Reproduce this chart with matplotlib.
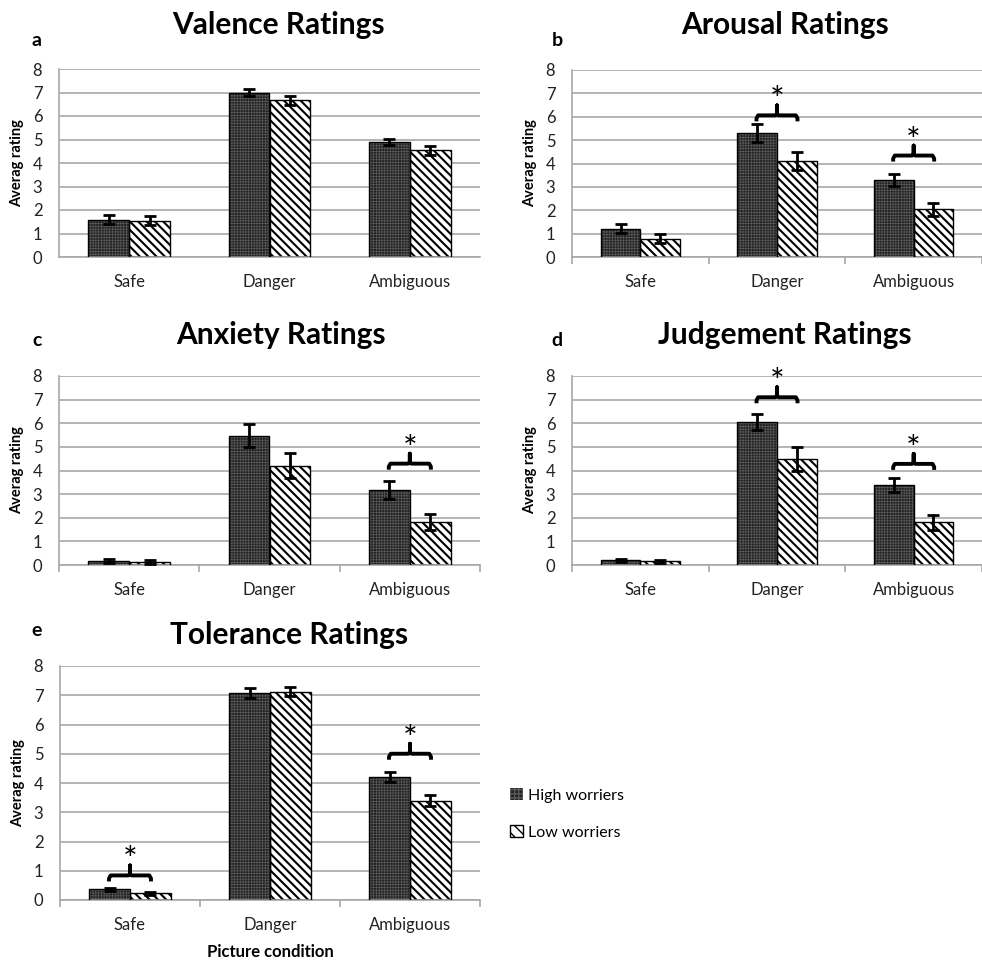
import matplotlib
matplotlib.use("Agg")
import matplotlib.pyplot as plt
from matplotlib.patches import Patch
import numpy as np

plt.rcParams['font.family'] = ['Lato', 'DejaVu Sans']

categories = ["Safe", "Danger", "Ambiguous"]
series_names = ["High worriers", "Low worriers"]
yticks = [0, 1, 2, 3, 4, 5, 6, 7, 8]

titles = ["Valence Ratings", "Arousal Ratings", "Anxiety Ratings",
          "Judgement Ratings", "Tolerance Ratings"]
panel_letters = ["a", "b", "c", "d", "e"]

high_means = [
    [1.59, 6.99, 4.89],
    [1.21, 5.30, 3.28],
    [0.18, 5.47, 3.17],
    [0.20, 6.06, 3.39],
    [0.36, 7.08, 4.20],
]
high_errs = [
    [0.20, 0.16, 0.14],
    [0.20, 0.40, 0.25],
    [0.08, 0.48, 0.37],
    [0.07, 0.35, 0.31],
    [0.05, 0.18, 0.18],
]
low_means = [
    [1.55, 6.66, 4.54],
    [0.79, 4.11, 2.04],
    [0.14, 4.20, 1.83],
    [0.16, 4.48, 1.80],
    [0.23, 7.12, 3.40],
]
low_errs = [
    [0.20, 0.20, 0.20],
    [0.20, 0.38, 0.27],
    [0.08, 0.52, 0.34],
    [0.07, 0.52, 0.32],
    [0.05, 0.16, 0.18],
]
# significant differences: (panel index, category index, bracket level)
significance = [
    (1, 1, 6.06), (1, 2, 4.34),
    (2, 2, 4.29),
    (3, 1, 7.10), (3, 2, 4.28),
    (4, 0, 0.84), (4, 2, 5.00),
]

W, H = 982, 960
fig = plt.figure(figsize=(W / 100, H / 100), dpi=100)

def px_axes(left, top, right, bottom):
    return fig.add_axes([left / W, 1 - bottom / H, (right - left) / W, (bottom - top) / H])

axes_px = [
    (59, 69, 480, 257),
    (572, 70, 982, 257),
    (59, 376, 480, 565),
    (572, 376, 982, 565),
    (60, 666, 480, 900),
]
title_px = [(278, 25), (785, 25), (281, 335), (785, 335), (289, 635)]
letter_px = [(37, 40), (557, 40), (37, 341), (557, 341), (37, 631)]

GRID = "#a8a8a8"
DARK = "#222222"
bw = 0.29
x = np.arange(len(categories))

axes = []
for i in range(5):
    ax = px_axes(*axes_px[i])
    axes.append(ax)
    ax.set_xlim(-0.5, 2.5)
    ax.set_ylim(0, 8)
    ax.set_yticks(yticks)
    ax.yaxis.grid(True, color=GRID, lw=1.2)
    ax.set_axisbelow(True)
    for s in ["top", "right"]:
        ax.spines[s].set_visible(False)
    for s in ["left", "bottom"]:
        ax.spines[s].set_color(GRID)
        ax.spines[s].set_linewidth(1.2)
    ax.tick_params(axis="y", length=0, pad=12, labelsize=12, colors="#222222")
    ax.set_xticks(x)
    ax.set_xticklabels(categories)
    ax.tick_params(axis="x", which="major", length=0, pad=12, labelsize=12, colors="#222222")
    if i > 0:
        ax.set_xticks([-0.5, 0.5, 1.5, 2.5], minor=True)
        ax.tick_params(axis="x", which="minor", length=5, width=1.2, color=GRID)

    # high worriers: dark textured fill
    with plt.rc_context({"hatch.linewidth": 0.5}):
        ax.bar(x - bw / 2, high_means[i], bw, color=DARK, edgecolor="#5a5a5a",
               hatch="++++++", lw=0, zorder=2)
    ax.bar(x - bw / 2, high_means[i], bw, color="none", edgecolor="black", lw=1.0, zorder=3)
    # low worriers: white with diagonal stripes
    with plt.rc_context({"hatch.linewidth": 1.5}):
        ax.bar(x + bw / 2, low_means[i], bw, color="white", edgecolor="black",
               hatch="\\\\\\\\", lw=0, zorder=2)
    ax.bar(x + bw / 2, low_means[i], bw, color="none", edgecolor="black", lw=1.0, zorder=3)

    ax.errorbar(x - bw / 2, high_means[i], yerr=high_errs[i], fmt="none",
                ecolor="black", elinewidth=2, capsize=4.5, capthick=2, zorder=4)
    ax.errorbar(x + bw / 2, low_means[i], yerr=low_errs[i], fmt="none",
                ecolor="black", elinewidth=2, capsize=4.5, capthick=2, zorder=4)

    ax.set_ylabel("Averag rating", fontsize=10.5, fontweight="bold", labelpad=6)
    fig.text(title_px[i][0] / W, 1 - title_px[i][1] / H, titles[i],
             fontsize=21.5, fontweight="bold", ha="center", va="center")
    fig.text(letter_px[i][0] / W, 1 - letter_px[i][1] / H, panel_letters[i],
             fontsize=14, fontweight="bold", ha="center", va="center")

axes[4].set_xlabel("Picture condition", fontsize=12, fontweight="bold", labelpad=8)

# significance brackets drawn with pixel-sized hooks
for pi, ci, level in significance:
    ax = axes[pi]
    ppu = (axes_px[pi][3] - axes_px[pi][1]) / 8.0
    d_end = 6 / ppu
    d_tip = 10 / ppu
    r = 3 / ppu
    x1, x2 = ci - 0.15, ci + 0.15
    xs = [x1, x1, x1 + 0.012, ci - 0.012, ci, ci, ci, ci + 0.012, x2 - 0.012, x2, x2]
    ys = [level - d_end, level - r, level, level, level + r * 0.6, level + d_tip,
          level + r * 0.6, level, level, level - r, level - d_end]
    ax.plot(xs, ys, color="black", lw=2.8, solid_joinstyle="round",
            solid_capstyle="butt", zorder=5, clip_on=False)
    ax.text(ci, level + d_tip - 6 / ppu, "*", fontsize=25, ha="center",
            va="baseline", zorder=5)

# legend
with plt.rc_context({"hatch.linewidth": 0.5}):
    h_high = Patch(facecolor=DARK, edgecolor="#5a5a5a", hatch="++++", lw=0)
with plt.rc_context({"hatch.linewidth": 1.2}):
    h_low = Patch(facecolor="white", edgecolor="black", hatch="\\\\\\", lw=1.0)
fig.legend([h_high, h_low], series_names, loc="center left",
           bbox_to_anchor=(496 / W, 1 - 814 / H), frameon=False, fontsize=11.5,
           handlelength=0.8, handleheight=0.8, handletextpad=0.3, labelspacing=1.4)

fig.savefig("out.png", dpi=100)
